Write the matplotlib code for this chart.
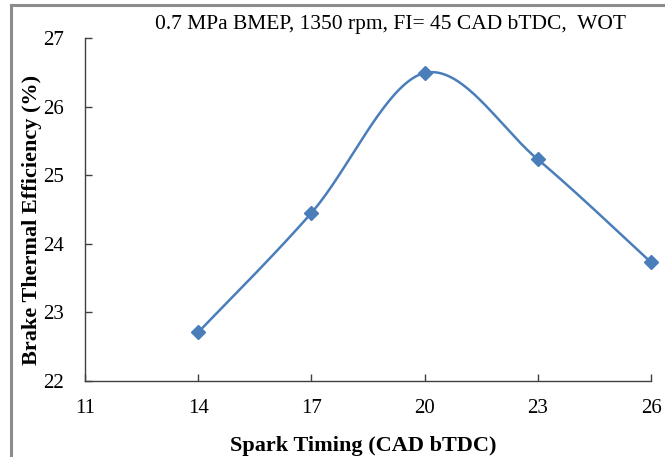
import numpy as np
import matplotlib
matplotlib.use("Agg")
import matplotlib.pyplot as plt
from matplotlib.lines import Line2D

spark_timing = [14, 17, 20, 23, 26]
bte = [22.71, 24.45, 26.49, 25.23, 23.73]
x_ticks = [11, 14, 17, 20, 23, 26]
y_ticks = [22, 23, 24, 25, 26, 27]

plt.rcParams['font.family'] = ['Liberation Serif', 'DejaVu Serif']

def catmull_rom(xs, ys, n=40):
    P = np.column_stack([xs, ys]).astype(float)
    P = np.vstack([P[0], P, P[-1]])
    out = []
    for i in range(1, len(P) - 2):
        p0, p1, p2, p3 = P[i-1], P[i], P[i+1], P[i+2]
        c1 = p1 + (p2 - p0) / 6.0
        c2 = p2 - (p3 - p1) / 6.0
        t = np.linspace(0, 1, n)[:, None]
        seg = ((1-t)**3)*p1 + 3*((1-t)**2)*t*c1 + 3*(1-t)*t**2*c2 + t**3*p2
        out.append(seg if i == 1 else seg[1:])
    o = np.vstack(out)
    return o[:, 0], o[:, 1]

fig = plt.figure(figsize=(6.65, 4.57), dpi=100)
ax = fig.add_axes([85/665, 1 - 381/457, (651-85)/665, (381-38)/457])

sx, sy = catmull_rom(spark_timing, bte)
color = '#4A7EBB'
ax.plot(sx, sy, color=color, lw=1.8, zorder=2, clip_on=False)
ax.plot(spark_timing, bte, linestyle='none', marker='D', ms=7, color=color, zorder=3, clip_on=False)

ax.set_xlim(11, 26)
ax.set_ylim(22, 27)
ax.set_xticks(x_ticks)
ax.set_yticks(y_ticks)
ax.tick_params(direction='in', length=5, width=1, labelsize=15, colors='black')
ax.tick_params(axis='x', pad=13, color='#404040')
ax.tick_params(axis='y', pad=15, color='#404040')
for s in ['top', 'right']:
    ax.spines[s].set_visible(False)
for s in ['left', 'bottom']:
    ax.spines[s].set_color('#404040')
    ax.spines[s].set_linewidth(1)

ax.set_xlabel('Spark Timing (CAD bTDC)', fontsize=16, fontweight='bold')
ax.xaxis.set_label_coords((363-85)/566, (381-436)/343)
ax.set_ylabel('Brake Thermal Efficiency (%)', fontsize=16, fontweight='bold')
ax.yaxis.set_label_coords((42-85)/566, (381-220)/343)
fig.text(391/665, 1 - 24/457, '0.7 MPa BMEP, 1350 rpm, FI= 45 CAD bTDC,  WOT',
         ha='center', va='center', fontsize=15.5)

border = '#8c8c8c'
fig.add_artist(Line2D([11/665, 1.0], [1 - 5/457, 1 - 5/457], transform=fig.transFigure, color=border, lw=2.2))
fig.add_artist(Line2D([11/665, 11/665], [0.0, 1 - 5/457], transform=fig.transFigure, color=border, lw=2.2))

fig.savefig('out.png', dpi=100)
